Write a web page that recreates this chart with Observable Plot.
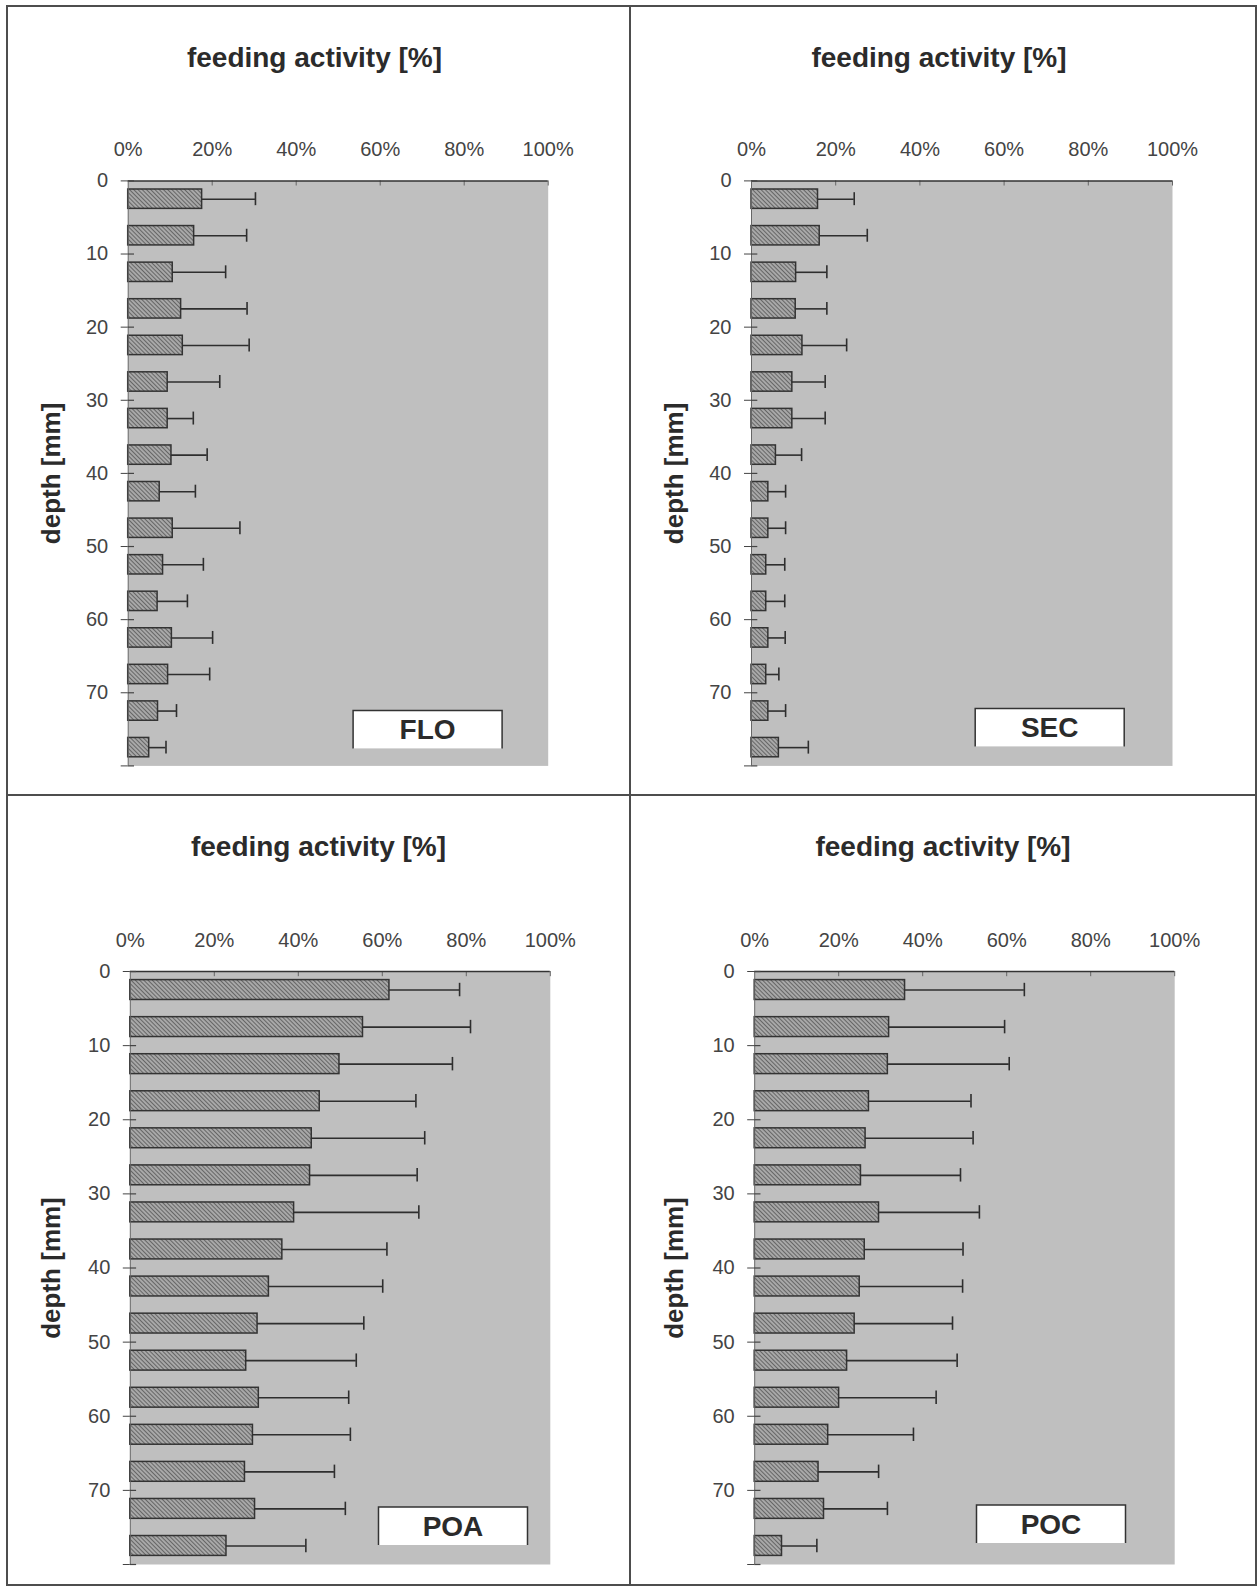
<!DOCTYPE html>
<html>
<head>
<meta charset="utf-8">
<script src="https://cdn.jsdelivr.net/npm/d3@7"></script>
<script src="https://cdn.jsdelivr.net/npm/@observablehq/plot@0.6"></script>
<style>
  html, body { margin: 0; padding: 0; background: #fff; }
  body { width: 1258px; height: 1589px; position: relative; overflow: hidden;
         font-family: "Liberation Sans", Arial, sans-serif; }
  .cell { position: absolute; }
  .cell .title { position: absolute; left: 0; width: 100%; top: 34px; height: 36px; line-height: 36px;
                 text-align: center; font-weight: bold; font-size: 28px; color: #2b2b2b; }
  .cell svg { position: absolute; left: 0; top: 100px; }
  .rule { position: absolute; background: #4d4d4d; }
</style>
</head>
<body>
<script>
// Depth layers (upper edge of each 5 mm slice)
const depthFrom = [0, 5, 10, 15, 20, 25, 30, 35, 40, 45, 50, 55, 60, 65, 70, 75];
const depthTicks = [0, 10, 20, 30, 40, 50, 60, 70, 80];
const activityTicks = [0, 20, 40, 60, 80, 100];

// Mean feeding activity [%] and standard deviation per layer
const floMean = [17.6, 15.7, 10.6, 12.6, 13.0, 9.4, 9.4, 10.3, 7.5, 10.6, 8.3, 7.0, 10.4, 9.5, 7.1, 5.0];
const floSd   = [12.7, 12.5, 12.6, 15.7, 15.8, 12.4, 6.1, 8.5, 8.5, 16.0, 9.6, 7.1, 9.7, 9.9, 4.4, 4.0];
const secMean = [15.8, 16.2, 10.6, 10.5, 12.1, 9.7, 9.7, 5.8, 4.0, 4.0, 3.5, 3.5, 4.0, 3.5, 4.0, 6.5];
const secSd   = [8.6, 11.3, 7.3, 7.4, 10.5, 7.8, 7.8, 6.1, 4.1, 4.1, 4.4, 4.4, 4.0, 3.0, 4.1, 7.0];
const poaMean = [61.7, 55.4, 49.8, 45.1, 43.2, 42.8, 39.0, 36.2, 33.0, 30.3, 27.6, 30.6, 29.2, 27.3, 29.7, 22.9];
const poaSd   = [16.7, 25.6, 26.9, 22.9, 26.9, 25.5, 29.7, 24.9, 27.1, 25.3, 26.2, 21.4, 23.2, 21.3, 21.5, 18.9];
const pocMean = [35.8, 32.0, 31.7, 27.2, 26.4, 25.3, 29.6, 26.2, 25.0, 23.8, 22.0, 20.1, 17.5, 15.2, 16.5, 6.5];
const pocSd   = [28.4, 27.5, 28.9, 24.3, 25.6, 23.7, 23.9, 23.4, 24.5, 23.3, 26.2, 23.1, 20.3, 14.3, 15.1, 8.3];

const panelNames = ["FLO", "SEC", "POA", "POC"];
const panelMeans = [floMean, secMean, poaMean, pocMean];
const panelSds = [floSd, secSd, poaSd, pocSd];

const xTitle = "feeding activity [%]";
const yTitle = "depth [mm]";

// Cell placement on the page and inner plot geometry for each panel
const layout = [
  {left: 7,   top: 6,   w: 623, h: 789, titleShift: -4, ml: 120.7, pw: 420, mt: 74.4, ph: 585, boxRight: 45.6, boxBottom: 17},
  {left: 630, top: 6,   w: 626, h: 789, titleShift: -4, ml: 121.0, pw: 421, mt: 74.4, ph: 585, boxRight: 47.8, boxBottom: 19},
  {left: 7,   top: 795, w: 623, h: 790, titleShift: 0,  ml: 122.8, pw: 420, mt: 76.0, ph: 593, boxRight: 22.3, boxBottom: 19},
  {left: 630, top: 795, w: 626, h: 790, titleShift: 0,  ml: 124.2, pw: 420, mt: 76.0, ph: 593, boxRight: 48.7, boxBottom: 21}
];

// Frame lines around and between the four panels
[
  {left: 6, top: 5, width: 1250, height: 2},
  {left: 6, top: 794, width: 1250, height: 2},
  {left: 6, top: 1584, width: 1250, height: 2},
  {left: 6, top: 5, width: 2, height: 1581},
  {left: 629, top: 5, width: 2, height: 1581},
  {left: 1255, top: 5, width: 2, height: 1581}
].forEach(r => {
  const d = document.createElement("div");
  d.className = "rule";
  Object.assign(d.style, {left: r.left + "px", top: r.top + "px", width: r.width + "px", height: r.height + "px"});
  document.body.appendChild(d);
});

function patterns(i) {
  return () => {
    const defs = d3.create("svg:defs");
    const bg = defs.append("pattern").attr("id", `bg${i}`).attr("width", 2).attr("height", 2)
      .attr("patternUnits", "userSpaceOnUse");
    bg.append("rect").attr("width", 2).attr("height", 2).attr("fill", "#cbcbcb");
    bg.append("rect").attr("width", 1).attr("height", 1).attr("fill", "#adadad");
    bg.append("rect").attr("x", 1).attr("y", 1).attr("width", 1).attr("height", 1).attr("fill", "#b9b9b9");
    const h = defs.append("pattern").attr("id", `hatch${i}`).attr("width", 3).attr("height", 3)
      .attr("patternUnits", "userSpaceOnUse").attr("patternTransform", "rotate(-45)");
    h.append("rect").attr("width", 3).attr("height", 3).attr("fill", "#a8a8a8");
    h.append("line").attr("x1", 0.5).attr("y1", 0).attr("x2", 0.5).attr("y2", 3)
      .attr("stroke", "#666").attr("stroke-width", 1);
    return defs.node();
  };
}

function labelBox(name, L) {
  return (index, scales, values, dims) => {
    const x2 = dims.width - dims.marginRight - L.boxRight;
    const y2 = dims.height - dims.marginBottom - L.boxBottom;
    const x1 = x2 - 149, y1 = y2 - 38;
    const g = d3.create("svg:g");
    g.append("rect").attr("x", x1).attr("y", y1).attr("width", x2 - x1).attr("height", y2 - y1).attr("fill", "#fff");
    g.append("path").attr("d", `M${x1},${y2}V${y1}H${x2}V${y2}`)
      .attr("fill", "none").attr("stroke", "#333").attr("stroke-width", 1.5);
    g.append("text").attr("x", (x1 + x2) / 2).attr("y", (y1 + y2) / 2).attr("dy", "0.36em")
      .attr("text-anchor", "middle").attr("font-weight", "bold").attr("font-size", 28)
      .attr("fill", "#2b2b2b").text(name);
    return g.node();
  };
}

panelNames.forEach((name, i) => {
  const L = layout[i];
  const rows = depthFrom.map((d, k) => ({from: d, mean: panelMeans[i][k], sd: panelSds[i][k]}));

  const cell = document.createElement("div");
  cell.className = "cell";
  Object.assign(cell.style, {left: L.left + "px", top: L.top + "px", width: L.w + "px", height: L.h + "px"});
  const title = document.createElement("div");
  title.className = "title";
  title.style.left = L.titleShift + "px";
  title.textContent = xTitle;
  cell.appendChild(title);

  const svgHeight = L.h - 100;
  const chart = Plot.plot({
    width: L.w,
    height: svgHeight,
    marginLeft: L.ml,
    marginRight: L.w - L.ml - L.pw,
    marginTop: L.mt,
    marginBottom: svgHeight - L.mt - L.ph,
    style: {fontFamily: "'Liberation Sans', Arial, sans-serif", fontSize: "20px", color: "#444", background: "transparent", overflow: "visible"},
    x: {domain: [0, 100]},
    y: {domain: [0, 80], reverse: true},
    marks: [
      patterns(i),
      Plot.frame({fill: `url(#bg${i})`, stroke: null}),
      Plot.ruleX(activityTicks.slice(1), {y1: 0, y2: 0.7, stroke: "#666", strokeWidth: 1}),
      Plot.rectX(rows, {
        x1: 0, x2: "mean", y1: "from", y2: d => d.from + 5,
        insetTop: 8.6, insetBottom: 8.6,
        fill: `url(#hatch${i})`, stroke: "#333", strokeWidth: 1.5
      }),
      Plot.ruleY(rows, {y: d => d.from + 2.5, x1: "mean", x2: d => d.mean + d.sd, stroke: "#2e2e2e", strokeWidth: 1.6}),
      Plot.ruleX(rows, {x: d => d.mean + d.sd, y1: "from", y2: d => d.from + 5, insetTop: 11.8, insetBottom: 11.8, stroke: "#2e2e2e", strokeWidth: 1.6}),
      Plot.ruleY([0], {stroke: "#333", strokeWidth: 1.5}),
      Plot.ruleX([0], {stroke: "#666", strokeWidth: 1}),
      Plot.ruleY(depthTicks, {x1: 0, x2: 1.5, stroke: "#444", strokeWidth: 1.2}),
      Plot.axisX({anchor: "top", ticks: activityTicks, tickFormat: d => `${d}%`, tickSize: 0, tickPadding: 25, label: null, fontSize: 20}),
      Plot.axisY({ticks: depthTicks, tickFormat: d => d === 80 ? "" : String(d), tickSize: 7, tickPadding: 13, label: null, fontSize: 20, stroke: "#444"}),
      Plot.text([yTitle], {frameAnchor: "left", textAnchor: "middle", dx: -(L.ml - 44), rotate: -90, fontSize: 26, fontWeight: "bold", fill: "#2b2b2b"}),
      labelBox(name, L)
    ]
  });
  cell.appendChild(chart);
  document.body.appendChild(cell);
});
</script>
</body>
</html>
